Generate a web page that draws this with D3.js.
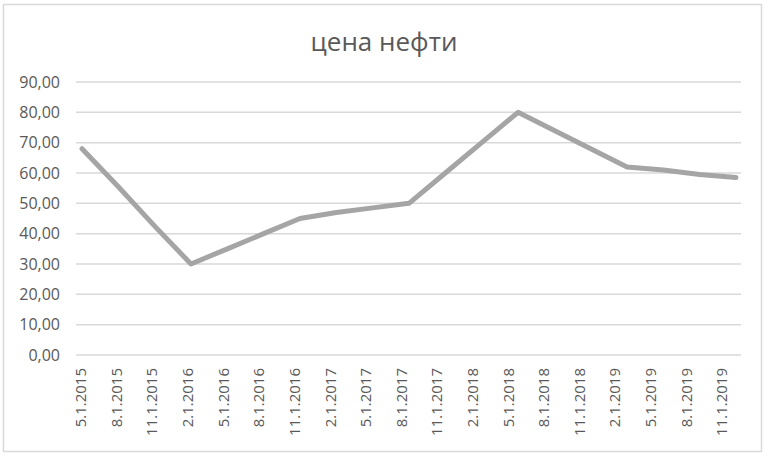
<!DOCTYPE html>
<html>
<head>
<meta charset="utf-8">
<script src="https://cdn.jsdelivr.net/npm/d3@7"></script>
<style>
  html, body { margin: 0; padding: 0; background: #fff; }
  svg { display: block; }
  text { font-family: "Open Sans", sans-serif; fill: #595959; }
</style>
</head>
<body>
<svg id="chart" width="768" height="460"></svg>
<script>
const title = "цена нефти";
const categories = ["5.1.2015","8.1.2015","11.1.2015","2.1.2016","5.1.2016","8.1.2016","11.1.2016",
  "2.1.2017","5.1.2017","8.1.2017","11.1.2017","2.1.2018","5.1.2018","8.1.2018","11.1.2018",
  "2.1.2019","5.1.2019","8.1.2019","11.1.2019"];
const values = [68, 55.5, 42.5, 30, 35, 40, 45, 47, 48.5, 50, 60, 70, 80, 74, 68, 62, 61, 59.5, 58.5];
const yTicks = [0, 10, 20, 30, 40, 50, 60, 70, 80, 90];

const svg = d3.select("#chart");

svg.append("rect").attr("x", 3.5).attr("y", 4.5).attr("width", 758).attr("height", 447)
  .attr("fill", "#fff").attr("stroke", "#d9d9d9").attr("stroke-width", 1.5);

svg.append("text").attr("x", 384).attr("y", 51).attr("text-anchor", "middle")
  .style("font-size", "26px").text(title);

const plotLeft = 76, plotRight = 741;
const y = d3.scaleLinear().domain([0, 90]).range([355, 82]);
const x = d3.scalePoint().domain(categories).range([82, 736]);
const xLab = d3.scalePoint().domain(categories).range([81, 722]);

// gridlines
svg.append("g").selectAll("line").data(yTicks).join("line")
  .attr("x1", plotLeft).attr("x2", plotRight)
  .attr("y1", d => y(d)).attr("y2", d => y(d))
  .attr("stroke", "#d9d9d9").attr("stroke-width", 1.5);

// y labels
const fmt = d => d3.format(".2f")(d).replace(".", ",");
svg.append("g").selectAll("text").data(yTicks).join("text")
  .attr("x", 60).attr("y", d => y(d)).attr("dy", "0.36em")
  .attr("text-anchor", "end").style("font-size", "16px")
  .text(fmt);

// x labels
svg.append("g").selectAll("text").data(categories).join("text")
  .attr("transform", d => `translate(${xLab(d)},368) rotate(-90)`)
  .attr("dy", "0.35em").attr("text-anchor", "end").style("font-size", "15px")
  .text(d => d);

// line
const line = d3.line().x((d, i) => x(categories[i])).y(d => y(d));
svg.append("path").datum(values).attr("d", line)
  .attr("fill", "none").attr("stroke", "#a5a5a5").attr("stroke-width", 5)
  .attr("stroke-linejoin", "round").attr("stroke-linecap", "round");
</script>
</body>
</html>
